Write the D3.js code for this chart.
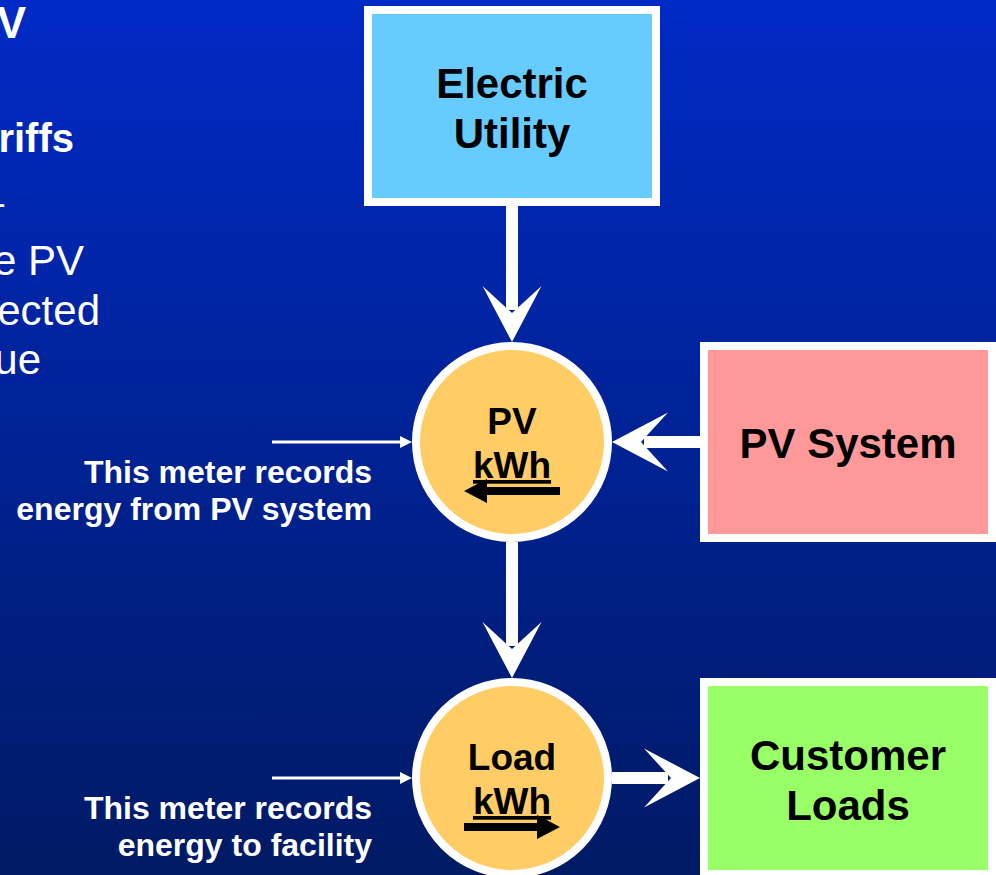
<!DOCTYPE html>
<html lang="en">
    <head>
        <meta charset="utf-8">
        <title>PV meter diagram</title>
        <script type="text/javascript" src="https://d3js.org/d3.v7.min.js"></script>
        <style type="text/css">
            body { margin: 0; overflow: hidden; }
            text { font-family: "Liberation Sans", Arial, sans-serif; }
        </style>
    </head>
    <body>
        <script type="text/javascript">
            //Width and height
            var w = 996;
            var h = 875;

            // boxes: label lines, fill, grid column / row
            var boxLabels = [["Electric", "Utility"], ["PV System"], ["Customer", "Loads"]];
            var boxFills = ["#66ccff", "#ff9999", "#99ff66"];
            var boxCols = [0, 1, 1];
            var boxRows = [0, 1, 2];

            // meters (circles) in the middle column
            var meterLabels = [["PV", "kWh"], ["Load", "kWh"]];
            var meterRows = [1, 2];
            var meterFlow = [-1, 1];   // direction of the little arrow under kWh

            // flow arrows: [from col,row] -> [to col,row]
            var flows = [
                [[0, 0], [0, 1]],
                [[1, 1], [0, 1]],
                [[0, 1], [0, 2]],
                [[0, 2], [1, 2]]
            ];

            var notes = [["This meter records", "energy from PV system"],
                         ["This meter records", "energy to facility"]];

            // slide text cut off on the left edge
            var slideBits = ["V", "riffs", "\u2013", "e PV", "ected", "ue"];

            var x = d3.scaleLinear().domain([0, 1]).range([512, 848]);
            var y = d3.scaleLinear().domain([0, 2]).range([106, 778]);

            var boxHalfW = 148, boxHalfH = 100, meterR = 100;

            var svg = d3.select("body")
                        .append("svg")
                        .attr("width", w)
                        .attr("height", h);

            var grad = svg.append("defs").append("linearGradient")
                .attr("id", "bg").attr("x1", 0).attr("y1", 0).attr("x2", 0).attr("y2", 1);
            grad.append("stop").attr("offset", 0).attr("stop-color", "#002ac6");
            grad.append("stop").attr("offset", 1).attr("stop-color", "#001a64");

            svg.append("rect").attr("width", w).attr("height", h).attr("fill", "url(#bg)");

            // cut-off slide text
            var bitX = [26, 74, 4, 84, 100, 41];
            var bitY = [38, 152, 216, 275, 325, 374];
            var bitBold = [true, true, false, false, false, false];
            var bitSize = [44, 40, 42, 42, 42, 42];
            svg.selectAll("text.bit")
               .data(slideBits)
               .enter()
               .append("text")
               .attr("class", "bit")
               .text(function(d) { return d; })
               .attr("text-anchor", "end")
               .attr("x", function(d, i) { return bitX[i]; })
               .attr("y", function(d, i) { return bitY[i]; })
               .attr("font-size", function(d, i) { return bitSize[i] + "px"; })
               .attr("font-weight", function(d, i) { return bitBold[i] ? "bold" : "normal"; })
               .attr("fill", "white");

            // half extent of a node along a direction
            function isMeter(c, r) {
                return c === 0 && meterRows.indexOf(r) >= 0;
            }
            function extent(c, r, dx, dy) {
                if (isMeter(c, r)) return meterR;
                return dx !== 0 ? boxHalfW : boxHalfH;
            }

            // flow arrows (drawn first so boxes sit on top)
            var headPath = "M0,0 L-56,-29.5 L-29,0 L-56,29.5 Z";
            flows.forEach(function(f) {
                var x0 = x(f[0][0]), y0 = y(f[0][1]);
                var x1 = x(f[1][0]), y1 = y(f[1][1]);
                var dx = Math.sign(x1 - x0), dy = Math.sign(y1 - y0);
                var sx = x0 + dx * extent(f[0][0], f[0][1], dx, dy);
                var sy = y0 + dy * extent(f[0][0], f[0][1], dx, dy);
                var tx = x1 - dx * extent(f[1][0], f[1][1], dx, dy);
                var ty = y1 - dy * extent(f[1][0], f[1][1], dx, dy);
                svg.append("line")
                   .attr("x1", sx).attr("y1", sy)
                   .attr("x2", tx - dx * 32).attr("y2", ty - dy * 32)
                   .attr("stroke", "white")
                   .attr("stroke-width", 12);
                var ang = Math.atan2(dy, dx) * 180 / Math.PI;
                svg.append("path")
                   .attr("d", headPath)
                   .attr("transform", "translate(" + tx + "," + ty + ") rotate(" + ang + ")")
                   .attr("fill", "white");
            });

            // boxes
            var boxes = svg.selectAll("g.box")
               .data(boxLabels)
               .enter()
               .append("g")
               .attr("class", "box")
               .attr("transform", function(d, i) {
                    return "translate(" + x(boxCols[i]) + "," + y(boxRows[i]) + ")";
               });
            boxes.append("rect")
               .attr("x", -boxHalfW + 4)
               .attr("y", -boxHalfH + 4)
               .attr("width", boxHalfW * 2 - 8)
               .attr("height", boxHalfH * 2 - 8)
               .attr("fill", function(d, i) { return boxFills[i]; })
               .attr("stroke", "white")
               .attr("stroke-width", 8);
            boxes.each(function(d) {
                var g = d3.select(this);
                var top = d.length === 1 ? 16 : -8;
                d.forEach(function(line, k) {
                    g.append("text")
                     .text(line)
                     .attr("text-anchor", "middle")
                     .attr("x", 0)
                     .attr("y", top + k * 50)
                     .attr("font-size", "42px")
                     .attr("font-weight", "bold")
                     .attr("fill", "black");
                });
            });

            // meters
            var meters = svg.selectAll("g.meter")
               .data(meterLabels)
               .enter()
               .append("g")
               .attr("class", "meter")
               .attr("transform", function(d, i) {
                    return "translate(" + x(0) + "," + y(meterRows[i]) + ")";
               });
            meters.append("circle")
               .attr("r", meterR - 4)
               .attr("fill", "#ffcc66")
               .attr("stroke", "white")
               .attr("stroke-width", 8);
            meters.each(function(d, i) {
                var g = d3.select(this);
                d.forEach(function(line, k) {
                    g.append("text")
                     .text(line)
                     .attr("text-anchor", "middle")
                     .attr("x", 0)
                     .attr("y", -8 + k * 44)
                     .attr("font-size", "37px")
                     .attr("font-weight", "bold")
                     .attr("text-decoration", k === 1 ? "underline" : null)
                     .attr("fill", "black");
                });
                var dir = meterFlow[i];
                var ay = 49;
                g.append("line")
                 .attr("x1", -dir * 48).attr("y1", ay)
                 .attr("x2", dir * 30).attr("y2", ay)
                 .attr("stroke", "black")
                 .attr("stroke-width", 8);
                g.append("path")
                 .attr("d", "M0,0 L-23,-12 L-23,12 Z")
                 .attr("transform", "translate(" + (dir * 48) + "," + ay + ") rotate(" + (dir > 0 ? 0 : 180) + ")")
                 .attr("fill", "black");
            });

            // pointer lines and notes on the left
            notes.forEach(function(lines, i) {
                var cy = y(meterRows[i]);
                var tip = x(0) - meterR;
                svg.append("line")
                   .attr("x1", 272).attr("y1", cy)
                   .attr("x2", tip - 10).attr("y2", cy)
                   .attr("stroke", "white")
                   .attr("stroke-width", 3);
                svg.append("path")
                   .attr("d", "M0,0 L-12,-6 L-12,6 Z")
                   .attr("transform", "translate(" + tip + "," + cy + ")")
                   .attr("fill", "white");
                lines.forEach(function(line, k) {
                    svg.append("text")
                       .text(line)
                       .attr("text-anchor", "end")
                       .attr("x", 372)
                       .attr("y", cy + 41 + k * 37)
                       .attr("font-size", "32px")
                       .attr("font-weight", "bold")
                       .attr("fill", "white");
                });
            });
        </script>
    </body>
</html>
